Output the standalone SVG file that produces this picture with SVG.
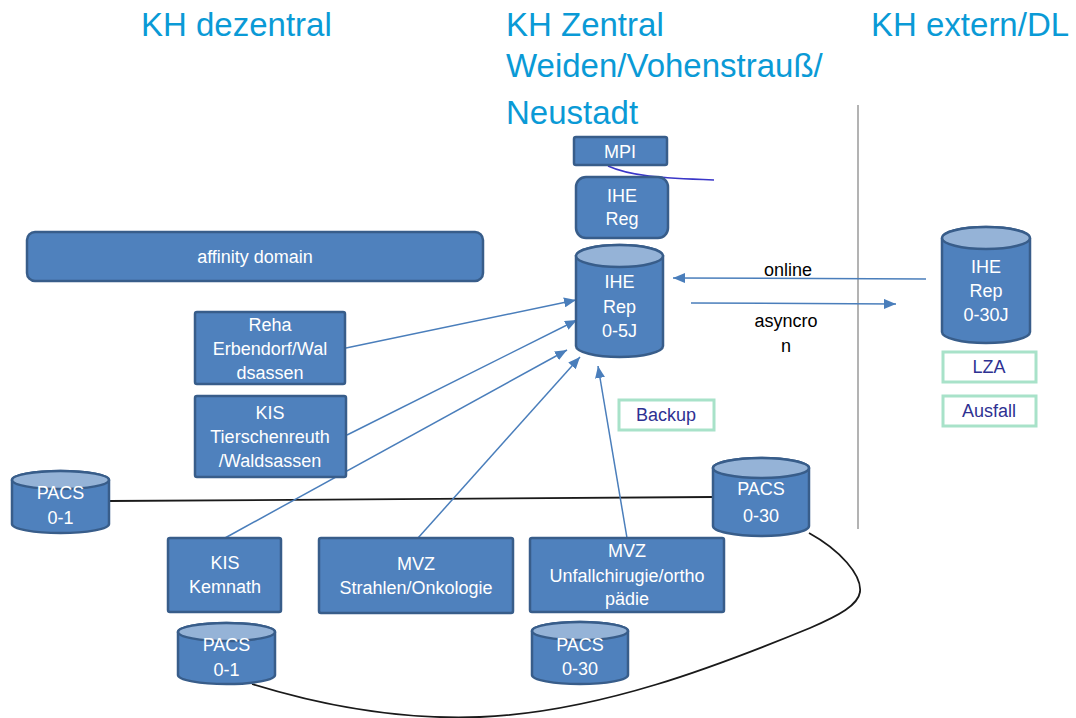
<svg xmlns="http://www.w3.org/2000/svg" width="1076" height="718" viewBox="0 0 1076 718">
<style>
.head{font-family:"Liberation Sans",Arial,sans-serif;font-size:33px;fill:#0a9ad6}
.box{fill:#4f81bd;stroke:#385d8a;stroke-width:2.5}
.top{fill:#95b3d7;stroke:#385d8a;stroke-width:2.5}
.t{font-family:"Liberation Sans",Arial,sans-serif;font-size:18px;fill:#ffffff;text-anchor:middle}
.lbl{font-family:"Liberation Sans",Arial,sans-serif;font-size:18px;fill:#000000;text-anchor:middle}
.gbox{fill:#ffffff;stroke:#a8e2c9;stroke-width:3}
.gt{font-family:"Liberation Sans",Arial,sans-serif;font-size:18px;fill:#2e3192;text-anchor:middle}
.blue{fill:none;stroke:#4a7ebb;stroke-width:1.5}
.black{fill:none;stroke:#1a1a1a;stroke-width:1.8}
</style>
<defs>
<marker id="ah" markerUnits="userSpaceOnUse" markerWidth="12" markerHeight="10" refX="12" refY="5" orient="auto">
<path d="M0,0 L12,5 L0,10 z" fill="#4a7ebb"/>
</marker>
</defs>
<rect width="1076" height="718" fill="#ffffff"/>

<g id="headings">
<text class="head" x="141" y="36">KH dezentral</text>
<text class="head" x="506" y="36">KH Zentral</text>
<text class="head" x="506" y="77">Weiden/Vohenstrauß/</text>
<text class="head" x="506" y="124">Neustadt</text>
<text class="head" x="871" y="36">KH extern/DL</text>
</g>

<line id="divider" x1="858" y1="105" x2="858" y2="529" stroke="#b3b3b3" stroke-width="2"/>

<g id="connectors">
<path class="black" d="M109,501 L713,497"/>
<path class="black" d="M809,533 C840,550 862,575 860,592 C858,605 840,615 810,628 C720,665 600,712 480,717 C400,720 320,705 252,684"/>
<path d="M608,166 C630,176 660,178 714,180" fill="none" stroke="#3a36c8" stroke-width="1.5"/>
<path class="blue" d="M346,348 L576,300" marker-end="url(#ah)"/>
<path class="blue" d="M347,435 L577,320" marker-end="url(#ah)"/>
<path class="blue" d="M225,538 L567,350" marker-end="url(#ah)"/>
<path class="blue" d="M418,538 L580,357" marker-end="url(#ah)"/>
<path class="blue" d="M627,538 L598,366" marker-end="url(#ah)"/>
<path class="blue" d="M926,279 L673,278" marker-end="url(#ah)"/>
<path class="blue" d="M691,303 L896,304" marker-end="url(#ah)"/>
<text class="lbl" x="788" y="276">online</text>
<text class="lbl" x="786" y="327">asyncro</text>
<text class="lbl" x="786" y="352">n</text>
</g>

<g id="mpi">
<rect class="box" x="574" y="137" width="93" height="28" rx="2"/>
<text class="t" x="620" y="158">MPI</text>
</g>

<g id="ihe-reg">
<rect class="box" x="576" y="177" width="92" height="61" rx="10"/>
<text class="t" x="622" y="202">IHE</text>
<text class="t" x="622" y="225">Reg</text>
</g>

<g id="ihe-rep-central">
<path class="box" d="M576,256 A43.5,11 0 0 1 663,256 V346 A43.5,11 0 0 1 576,346 Z"/>
<ellipse class="top" cx="619.5" cy="256" rx="43.5" ry="11"/>
<text class="t" x="619.5" y="288">IHE</text>
<text class="t" x="619.5" y="313">Rep</text>
<text class="t" x="619.5" y="337">0-5J</text>
</g>

<g id="ihe-rep-extern">
<path class="box" d="M942,238 A44,11 0 0 1 1030,238 V332 A44,11 0 0 1 942,332 Z"/>
<ellipse class="top" cx="986" cy="238" rx="44" ry="11"/>
<text class="t" x="986" y="273">IHE</text>
<text class="t" x="986" y="297">Rep</text>
<text class="t" x="986" y="321">0-30J</text>
</g>

<g id="lza">
<rect class="gbox" x="943" y="352" width="93" height="30"/>
<text class="gt" x="989" y="373">LZA</text>
</g>

<g id="ausfall">
<rect class="gbox" x="943" y="396" width="93" height="30"/>
<text class="gt" x="989" y="417">Ausfall</text>
</g>

<g id="backup">
<rect class="gbox" x="619" y="400" width="95" height="30"/>
<text class="gt" x="666" y="421">Backup</text>
</g>

<g id="affinity">
<rect class="box" x="27" y="232" width="456" height="49" rx="8"/>
<text class="t" x="255" y="263">affinity domain</text>
</g>

<g id="reha">
<rect class="box" x="195" y="312" width="150" height="72" rx="2"/>
<text class="t" x="270" y="331">Reha</text>
<text class="t" x="270" y="355">Erbendorf/Wal</text>
<text class="t" x="270" y="379">dsassen</text>
</g>

<g id="kis-tirschenreuth">
<rect class="box" x="195" y="396" width="151" height="81" rx="2"/>
<text class="t" x="270" y="419">KIS</text>
<text class="t" x="270" y="443">Tierschenreuth</text>
<text class="t" x="270" y="467">/Waldsassen</text>
</g>

<g id="pacs-left">
<path class="box" d="M12,480 A48.5,9 0 0 1 109,480 V524 A48.5,9 0 0 1 12,524 Z"/>
<ellipse class="top" cx="60.5" cy="480" rx="48.5" ry="9"/>
<text class="t" x="60.5" y="499">PACS</text>
<text class="t" x="60.5" y="524">0-1</text>
</g>

<g id="kis-kemnath">
<rect class="box" x="168" y="538" width="113" height="74" rx="2"/>
<text class="t" x="225" y="569">KIS</text>
<text class="t" x="225" y="593">Kemnath</text>
</g>

<g id="pacs-kemnath">
<path class="box" d="M178,632 A48.5,9 0 0 1 275,632 V675 A48.5,9 0 0 1 178,675 Z"/>
<ellipse class="top" cx="226.5" cy="632" rx="48.5" ry="9"/>
<text class="t" x="226.5" y="651">PACS</text>
<text class="t" x="226.5" y="676">0-1</text>
</g>

<g id="mvz-strahlen">
<rect class="box" x="319" y="538" width="194" height="75" rx="2"/>
<text class="t" x="416" y="570">MVZ</text>
<text class="t" x="416" y="594">Strahlen/Onkologie</text>
</g>

<g id="mvz-unfall">
<rect class="box" x="530" y="538" width="194" height="74" rx="2"/>
<text class="t" x="627" y="557">MVZ</text>
<text class="t" x="627" y="582">Unfallchirugie/ortho</text>
<text class="t" x="627" y="605">pädie</text>
</g>

<g id="pacs-central">
<path class="box" d="M713,468 A48,10 0 0 1 809,468 V526 A48,10 0 0 1 713,526 Z"/>
<ellipse class="top" cx="761" cy="468" rx="48" ry="10"/>
<text class="t" x="761" y="495">PACS</text>
<text class="t" x="761" y="522">0-30</text>
</g>

<g id="pacs-mvz">
<path class="box" d="M532,631 A48,9 0 0 1 628,631 V675 A48,9 0 0 1 532,675 Z"/>
<ellipse class="top" cx="580" cy="631" rx="48" ry="9"/>
<text class="t" x="580" y="651">PACS</text>
<text class="t" x="580" y="675">0-30</text>
</g>
</svg>
